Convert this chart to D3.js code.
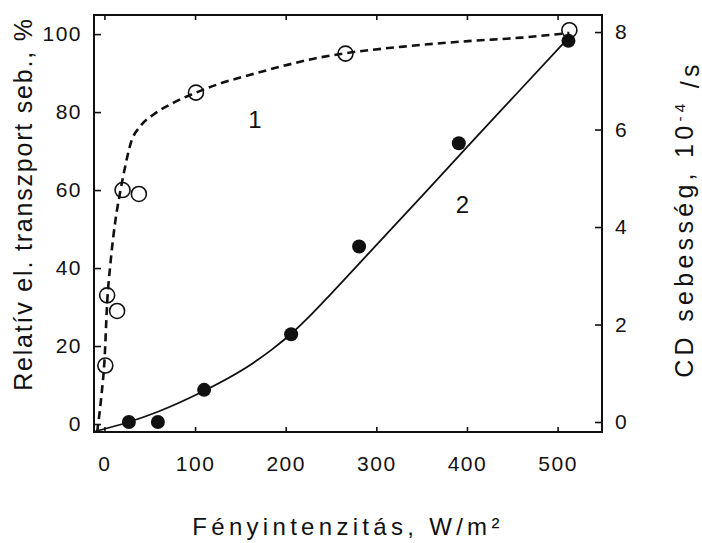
<!DOCTYPE html>
<html>
<head>
<meta charset="utf-8">
<script src="https://cdn.jsdelivr.net/npm/d3@7"></script>
<style>
  html, body { margin: 0; padding: 0; background: #fff; }
  svg { display: block; }
  text { font-family: "Liberation Sans", Arial, Helvetica, sans-serif; fill: #111; }
</style>
</head>
<body>
<svg id="chart" width="702" height="543"></svg>
<script>
// Curve 1: relative electron transport rate (%), open circles
const intensity1 = [1, 3, 14, 20, 38, 101, 266, 513];
const transport  = [15, 33, 29, 60, 59, 85, 95, 101];

// Curve 2: CD rate (10^-4 /s), filled circles
const intensity2 = [27, 59, 110, 206, 281, 391, 512];
const cdRate     = [0, 0, 0.66, 1.8, 3.6, 5.72, 7.82];

// Fitted curves
const fit1X = [-8, -3, 0, 3, 7, 12, 17, 22, 29, 40, 55, 77, 101, 130, 160, 200, 231, 266, 330, 401, 460, 513];
const fit1Y = [-2, 8, 16, 31, 42, 52, 59, 65, 72, 76.5, 79.5, 82.5, 85, 87.5, 89.5, 92, 93.7, 95.1, 96.8, 98.2, 99.1, 100.3];
const fit2X = [-10, 27, 59, 110, 160, 185, 206, 230, 250, 300, 350, 400, 456, 512];
const fit2Y = [-0.19, 0.0, 0.21, 0.64, 1.16, 1.49, 1.81, 2.24, 2.63, 3.63, 4.63, 5.64, 6.76, 7.88];

// Axis ticks
const xTicks = [0, 100, 200, 300, 400, 500];
const yLeftTicks = [0, 20, 40, 60, 80, 100];
const yRightTicks = [0, 2, 4, 6, 8];

const svg = d3.select("#chart");
const frame = { left: 94, right: 602, top: 15, bottom: 432 };

const x = d3.scaleLinear().domain([-11.5, 549]).range([frame.left, frame.right]);
const yL = d3.scaleLinear().domain([-2.05, 104.9]).range([frame.bottom, frame.top]);
const yR = d3.scaleLinear().domain([-0.205, 8.35]).range([frame.bottom, frame.top]);

const ink = "#111";

// Axes with inward ticks
function styleAxis(g) {
  g.select(".domain").remove();
  g.selectAll(".tick line").attr("stroke", ink).attr("stroke-width", 1.6);
  g.selectAll(".tick text")
    .style("font-size", "21px")
    .style("letter-spacing", "1.5px")
    .attr("fill", ink);
}

svg.append("g")
  .attr("transform", `translate(0,${frame.bottom})`)
  .call(d3.axisBottom(x).tickValues(xTicks).tickSize(-5).tickPadding(24))
  .call(styleAxis);

svg.append("g")
  .attr("transform", `translate(0,${frame.top})`)
  .call(d3.axisTop(x).tickValues(xTicks).tickSize(-5).tickFormat(""))
  .call(styleAxis);

svg.append("g")
  .attr("transform", `translate(${frame.left},0)`)
  .call(d3.axisLeft(yL).tickValues(yLeftTicks).tickSize(-7).tickPadding(12))
  .call(styleAxis);

svg.append("g")
  .attr("transform", `translate(${frame.right},0)`)
  .call(d3.axisRight(yR).tickValues(yRightTicks).tickSize(-7).tickPadding(13))
  .call(styleAxis);

// Plot frame
svg.append("rect")
  .attr("x", frame.left).attr("y", frame.top)
  .attr("width", frame.right - frame.left)
  .attr("height", frame.bottom - frame.top)
  .attr("fill", "none").attr("stroke", ink).attr("stroke-width", 2);

// Fitted curves
const line1 = d3.line().x((d, i) => x(fit1X[i])).y(d => yL(d)).curve(d3.curveMonotoneX);
const line2 = d3.line().x((d, i) => x(fit2X[i])).y(d => yR(d)).curve(d3.curveMonotoneX);

svg.append("path")
  .attr("d", line1(fit1Y))
  .attr("fill", "none").attr("stroke", ink)
  .attr("stroke-width", 2.6).attr("stroke-dasharray", "8,5");

svg.append("path")
  .attr("d", line2(fit2Y))
  .attr("fill", "none").attr("stroke", ink)
  .attr("stroke-width", 1.8);

// Data points
svg.append("g").selectAll("circle")
  .data(transport)
  .join("circle")
  .attr("cx", (d, i) => x(intensity1[i]))
  .attr("cy", d => yL(d))
  .attr("r", 7.5)
  .attr("fill", "#fff").attr("fill-opacity", 0)
  .attr("stroke", ink).attr("stroke-width", 1.6);

svg.append("g").selectAll("circle")
  .data(cdRate)
  .join("circle")
  .attr("cx", (d, i) => x(intensity2[i]))
  .attr("cy", d => yR(d))
  .attr("r", 7)
  .attr("fill", ink);

// Curve numbers
svg.append("text")
  .attr("x", x(166)).attr("y", yL(76))
  .attr("text-anchor", "middle")
  .style("font-size", "24px")
  .text("1");

svg.append("text")
  .attr("x", x(395)).attr("y", yR(4.29))
  .attr("text-anchor", "middle")
  .style("font-size", "24px")
  .text("2");

// Axis titles
svg.append("text")
  .attr("x", 348).attr("y", 535)
  .attr("text-anchor", "middle")
  .style("font-size", "24px")
  .style("letter-spacing", "4.3px")
  .text("Fényintenzitás, W/m²");

svg.append("text")
  .attr("transform", "translate(32,204) rotate(-90)")
  .attr("text-anchor", "middle")
  .style("font-size", "25px")
  .style("letter-spacing", "1.8px")
  .text("Relatív el. transzport seb., %");

const rightTitle = svg.append("text")
  .attr("transform", "translate(693,219) rotate(-90)")
  .attr("text-anchor", "middle")
  .style("font-size", "25px")
  .style("letter-spacing", "4.3px");
rightTitle.append("tspan").text("CD sebesség, 10");
rightTitle.append("tspan")
  .attr("dy", "-0.55em")
  .style("font-size", "15px")
  .text("-4");
rightTitle.append("tspan")
  .attr("dy", "0.55em")
  .text(" /s");
</script>
</body>
</html>
